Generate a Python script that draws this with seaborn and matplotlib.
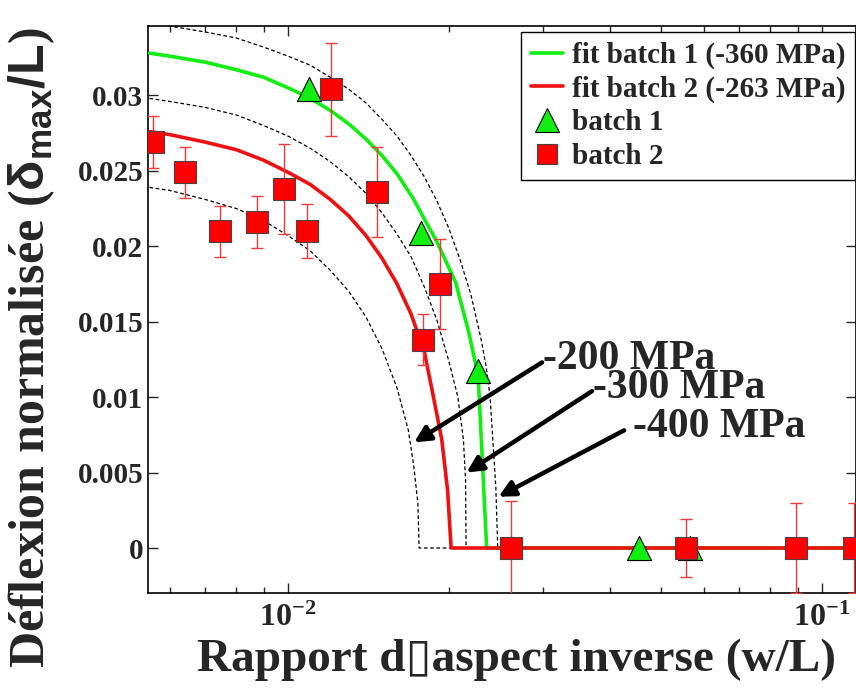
import matplotlib
matplotlib.use('Agg')
import matplotlib.pyplot as plt
from matplotlib.lines import Line2D
import seaborn as sns

# --- data ---
b2_x = [0.00559, 0.00641, 0.00746, 0.00875, 0.00983, 0.01085, 0.01204, 0.01468,
        0.0179, 0.01926, 0.02616, 0.0556, 0.0894, 0.1148]
b2_y = [0.0269, 0.0249, 0.0210, 0.0216, 0.0238, 0.0210, 0.0304, 0.0236,
        0.0138, 0.0175, 0.0, 0.0, 0.0, 0.0]
b2_err = [0.0017, 0.0017, 0.0017, 0.0017, 0.0030, 0.0018, 0.0031, 0.0030,
          0.0017, 0.0030, 0.0031, 0.0019, 0.0030, 0.0030]

b1_x = [0.01095, 0.01774, 0.0227, 0.0454, 0.0566]
b1_y = [0.0304, 0.0209, 0.0117, 0.0, 0.0]

fit1_x = [0.0055, 0.006, 0.007, 0.008, 0.009, 0.010, 0.011, 0.012, 0.013, 0.014,
          0.015, 0.016, 0.0172, 0.018, 0.019, 0.0206, 0.0218, 0.0227, 0.0231,
          0.02355, 0.12]
fit1_y = [0.0328, 0.0326, 0.0322, 0.0317, 0.0312, 0.0305, 0.0298, 0.0290, 0.0281,
          0.0271, 0.0260, 0.0248, 0.0231, 0.0218, 0.0203, 0.0176, 0.0143, 0.0114,
          0.0060, 0.0, 0.0]

fit2_x = [0.0055, 0.006, 0.007, 0.008, 0.009, 0.010, 0.011, 0.012, 0.013, 0.014,
          0.015, 0.016, 0.017, 0.018, 0.0186, 0.0194, 0.0199, 0.0202, 0.12]
fit2_y = [0.0276, 0.0274, 0.0269, 0.0264, 0.0257, 0.0249, 0.0241, 0.0231, 0.0220,
          0.0207, 0.0192, 0.0175, 0.0155, 0.0130, 0.0105, 0.0072, 0.0038, 0.0, 0.0]

m200_x = [0.0055, 0.006, 0.007, 0.008, 0.009, 0.010, 0.011, 0.012, 0.013, 0.014,
          0.015, 0.016, 0.0168, 0.0172, 0.0175, 0.0176, 0.12]
m200_y = [0.0239, 0.0237, 0.0231, 0.0225, 0.0217, 0.0207, 0.0197, 0.0184, 0.0170,
          0.0153, 0.0132, 0.0106, 0.0078, 0.0054, 0.0030, 0.0, 0.0]

m300_x = [0.0055, 0.006, 0.007, 0.008, 0.009, 0.010, 0.011, 0.012, 0.013, 0.014,
          0.015, 0.016, 0.017, 0.018, 0.019, 0.020, 0.0208, 0.0213, 0.0215,
          0.02155, 0.12]
m300_y = [0.0298, 0.0296, 0.0292, 0.0287, 0.0280, 0.0273, 0.0265, 0.0256, 0.0246,
          0.0235, 0.0222, 0.0208, 0.0193, 0.0173, 0.0151, 0.0124, 0.0100, 0.0072,
          0.0045, 0.0, 0.0]

m400_x = [0.0055, 0.006, 0.007, 0.008, 0.009, 0.010, 0.011, 0.012, 0.013, 0.014,
          0.015, 0.016, 0.017, 0.018, 0.019, 0.020, 0.021, 0.022, 0.023, 0.0235,
          0.0239, 0.0245, 0.0247, 0.12]
m400_y = [0.0348, 0.0346, 0.0342, 0.0338, 0.0332, 0.0326, 0.0320, 0.0312, 0.0304,
          0.0295, 0.0284, 0.0273, 0.0260, 0.0246, 0.0230, 0.0212, 0.0191, 0.0168,
          0.0138, 0.0120, 0.0100, 0.0040, 0.0, 0.0]

# annotation: label, text position, arrow tail, arrow head
notes = [('-200 MPa', (0.0300, 0.0125), (0.0299, 0.0123), (0.01722, 0.0070)),
         ('-300 MPa', (0.0373, 0.0106), (0.0371, 0.0104), (0.02159, 0.0050)),
         ('-400 MPa', (0.0443, 0.0080), (0.0426, 0.0078), (0.02478, 0.0034))]

yticks = [0, 0.005, 0.01, 0.015, 0.02, 0.025, 0.03]
ytick_labels = ['0', '0.005', '0.01', '0.015', '0.02', '0.025', '0.03']

# --- style ---
sns.set_style('ticks')
plt.rcParams['font.family'] = ['Liberation Serif', 'DejaVu Sans']
plt.rcParams['font.weight'] = 'bold'
plt.rcParams['mathtext.fontset'] = 'custom'
plt.rcParams['mathtext.rm'] = 'Liberation Serif:bold'
plt.rcParams['mathtext.bf'] = 'Liberation Serif:bold'
plt.rcParams['mathtext.it'] = 'Liberation Serif:bold'
plt.rcParams['mathtext.sf'] = 'Liberation Sans:bold'

fig = plt.figure(figsize=(8.56, 7.0), dpi=100)
ax = fig.add_axes([0.1729, 0.1529, 0.8271, 0.81])

GREEN = '#11ee11'
RED = '#ee1111'

for xs, ys in [(m200_x, m200_y), (m300_x, m300_y), (m400_x, m400_y)]:
    sns.lineplot(x=xs, y=ys, ax=ax, color='black', lw=0.9, sort=False,
                 estimator=None, zorder=2)
for l in ax.lines:
    l.set_dashes((3, 2))

sns.lineplot(x=fit1_x, y=fit1_y, ax=ax, color=GREEN, lw=2.6, sort=False,
             estimator=None, zorder=3)
sns.lineplot(x=fit2_x, y=fit2_y, ax=ax, color=RED, lw=2.6, sort=False,
             estimator=None, zorder=3)

ax.errorbar(b2_x, b2_y, yerr=b2_err, fmt='none', ecolor='#f03a3a', elinewidth=1,
            capsize=4, capthick=1, zorder=4)

sns.scatterplot(x=b1_x, y=b1_y, ax=ax, marker='^', s=300, color=GREEN,
                edgecolor='black', linewidth=0.8, zorder=5)
sns.scatterplot(x=b2_x, y=b2_y, ax=ax, marker='s', s=250, color='#ff0000',
                edgecolor='#444444', linewidth=0.8, zorder=6)

ax.set_xscale('log')
ax.set_xlim(0.005466, 0.1158)
ax.set_ylim(-0.00298, 0.0346)

ax.set_yticks(yticks)
ax.set_yticklabels(ytick_labels)
ax.set_xticks([0.01, 0.1])
ax.set_xticklabels([r'$\mathbf{10^{-2}}$', r'$\mathbf{10^{-1}}$'])
ax.tick_params(axis='both', which='both', direction='in', top=True, right=True,
               labelsize=21, width=1)
ax.tick_params(axis='x', labelsize=23, pad=8)
ax.tick_params(which='major', length=7)
ax.tick_params(which='minor', length=4)
for lab in ax.get_yticklabels():
    lab.set_fontweight('bold')
for s in ax.spines.values():
    s.set_linewidth(1.2)
    s.set_color('black')

ax.set_xlabel('Rapport d\u25afaspect inverse (w/L)', fontsize=34, fontweight='bold')
ax.xaxis.set_label_coords(0.52, -0.08)
ax.set_ylabel(r'Déflexion normalisée ($\mathsf{\delta_{max}/L}$)', fontsize=36,
              fontweight='bold')
ax.yaxis.set_label_coords(-0.128, 0.432)

for txt, pos, tail, head in notes:
    ax.annotate('', xy=head, xytext=tail,
                arrowprops=dict(arrowstyle='-|>', lw=3.2, color='black',
                                mutation_scale=24, shrinkA=0, shrinkB=0))
    ax.text(pos[0], pos[1], txt, fontsize=30, fontweight='bold',
            ha='left', va='center')

h_b1 = Line2D([], [], ls='none', marker='^', ms=17, mfc=GREEN, mec='black', mew=0.8)
h_b2 = Line2D([], [], ls='none', marker='s', ms=15, mfc='#ff0000', mec='#444444', mew=0.8)
h1 = Line2D([], [], color=GREEN, lw=2.6)
h2 = Line2D([], [], color=RED, lw=2.6)
leg = ax.legend([h1, h2, h_b1, h_b2],
                ['fit batch 1 (-360 MPa)', 'fit batch 2 (-263 MPa)', 'batch 1', 'batch 2'],
                loc='upper right', bbox_to_anchor=(0.999, 0.99), borderaxespad=0,
                prop={'size': 21, 'weight': 'bold'}, frameon=True, fancybox=False,
                framealpha=1, edgecolor='black', handlelength=1.1, handletextpad=0.3,
                labelspacing=0.22, borderpad=0.35)
leg.get_frame().set_linewidth(1.0)

fig.savefig('out.png', dpi=100)
